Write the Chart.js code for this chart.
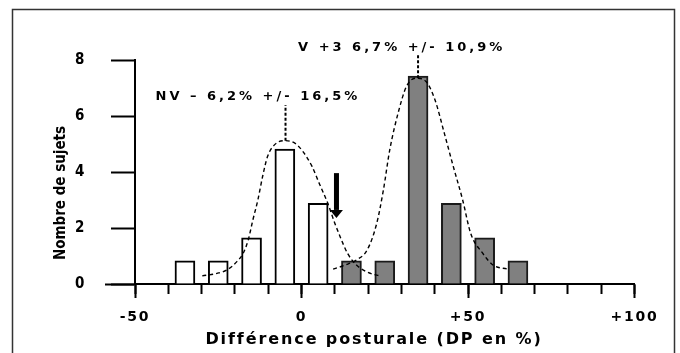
<!DOCTYPE html>
<html>
<head>
<meta charset="utf-8">
<script src="https://cdn.jsdelivr.net/npm/chart.js@4.4.1/dist/chart.umd.min.js"></script>
<style>
  html, body { margin: 0; padding: 0; background: #fff; }
  #wrap { width: 680px; height: 353px; position: relative; }
</style>
</head>
<body>
<div id="wrap"><canvas id="chart"></canvas></div>
<script>
// classes of 10 %, centre of each bar
var binsNV = [-35, -25, -15, -5, 5];
var countsNV = [0.83, 0.83, 1.65, 4.82, 2.88];
var binsV = [15, 25, 35, 45, 55, 65];
var countsV = [0.83, 0.83, 7.43, 2.88, 1.65, 0.83];

// dashed curves, points
var curveNVx = [-29.8, -25.4, -22.4, -19.4, -17.5, -16.0, -14.6, -13.1, -11.7, -10.2, -8.2, -5.1, -2.0, 0.5, 3.2, 5.3, 7.9, 10.0, 11.6, 13.8, 16.5, 20.7, 23.6];
var curveNVy = [0.29, 0.38, 0.5, 0.8, 1.1, 1.57, 2.29, 3.0, 3.83, 4.55, 4.96, 5.12, 5.03, 4.72, 4.19, 3.6, 2.88, 2.17, 1.69, 1.1, 0.68, 0.38, 0.29];
var curveVx = [9.5, 13.2, 16.5, 19.7, 22.6, 24.6, 26.5, 29.0, 31.5, 34.4, 37.4, 40.1, 42.9, 45.6, 48.4, 50.8, 54.4, 57.5, 62.0];
var curveVy = [0.53, 0.68, 0.86, 1.21, 2.17, 3.36, 4.79, 6.1, 7.05, 7.35, 7.23, 6.57, 5.38, 4.19, 3.0, 1.81, 1.1, 0.68, 0.53];

// dotted lines from the labels down to each peak
var meanNVx = [-4.8, -4.8];
var meanNVy = [5.12, 6.39];
var meanVx = [35, 35];
var meanVy = [7.35, 8.18];

// threshold arrow
var arrowX = 10.5;
var arrowY = [3.96, 2.36];

var xTickValues = [-50, -40, -30, -20, -10, 0, 10, 20, 30, 40, 50, 60, 70, 80, 90, 100];
var xMajorValues = [-50, 0, 50, 100];
var xMajorLabels = ['-50', '0', '+50', '+100'];
var yTickValues = [0, 2, 4, 6, 8];

var labelNV = 'NV \u2013 6,2% +/- 16,5%';
var labelV = 'V +3 6,7% +/- 10,9%';
var xTitle = 'Diff\u00e9rence posturale (DP en %)';
var yTitle = 'Nombre de sujets';

var FONT = "'DejaVu Sans', sans-serif";
var FONT_NARROW = "'DejaVu Sans Condensed', 'DejaVu Sans', sans-serif";

function pts(xs, ys) {
    return xs.map(function (x, i) { return {x: x, y: ys[i]}; });
}

var decor = {
    id: 'decor',
    beforeDraw: function (chart) {
        chart.ctx.letterSpacing = '1.7px';
    },
    afterDraw: function (chart) {
        var ctx = chart.ctx;
        var sx = chart.scales.x, sy = chart.scales.y;
        ctx.save();
        ctx.letterSpacing = '0px';

        // outer frame
        ctx.strokeStyle = '#333';
        ctx.lineWidth = 1.5;
        ctx.strokeRect(12.5, 9.5, 662, 360);

        // arrow
        var ax = sx.getPixelForValue(arrowX);
        var ay1 = sy.getPixelForValue(arrowY[0]);
        var ay2 = sy.getPixelForValue(arrowY[1]);
        ctx.fillStyle = '#000';
        ctx.fillRect(ax - 2.5, ay1, 5, ay2 - ay1 - 8);
        ctx.beginPath();
        ctx.moveTo(ax - 6.5, ay2 - 8);
        ctx.lineTo(ax + 6.5, ay2 - 8);
        ctx.lineTo(ax, ay2);
        ctx.closePath();
        ctx.fill();

        // labels of the two groups
        ctx.font = 'bold 13px ' + FONT;
        ctx.textBaseline = 'middle';
        ctx.textAlign = 'left';
        ctx.letterSpacing = '3px';
        ctx.fillText(labelNV, sx.getPixelForValue(meanNVx[0]) - 130, 97);
        ctx.fillText(labelV, sx.getPixelForValue(meanVx[0]) - 120, 48);

        // x title
        ctx.font = 'bold 16px ' + FONT;
        ctx.textAlign = 'center';
        ctx.letterSpacing = '1.9px';
        ctx.fillText(xTitle, 374, 340);

        // y title
        ctx.letterSpacing = '0px';
        ctx.font = 'bold 15px ' + FONT_NARROW;
        ctx.translate(61, 193);
        ctx.rotate(-Math.PI / 2);
        ctx.fillText(yTitle, 0, 0);
        ctx.restore();
    }
};

var ctx = document.getElementById('chart').getContext('2d');
var lineStyle = {
    type: 'line',
    xAxisID: 'x',
    yAxisID: 'y',
    borderColor: '#000',
    borderWidth: 1.4,
    borderDash: [4, 3],
    pointRadius: 0,
    cubicInterpolationMode: 'monotone',
    fill: false,
    order: 0
};
var markerStyle = {
    type: 'line',
    xAxisID: 'x',
    yAxisID: 'y',
    borderColor: '#000',
    borderWidth: 2,
    borderDash: [3, 2],
    pointRadius: 0,
    fill: false,
    clip: false,
    order: 0
};

new Chart(ctx, {
    type: 'bar',
    data: {
        datasets: [
            Object.assign({data: pts(curveNVx, curveNVy)}, lineStyle),
            Object.assign({data: pts(curveVx, curveVy)}, lineStyle),
            Object.assign({data: pts(meanNVx, meanNVy)}, markerStyle),
            Object.assign({data: pts(meanVx, meanVy)}, markerStyle),
            {
                type: 'bar',
                xAxisID: 'x',
                yAxisID: 'y',
                data: pts(binsNV, countsNV),
                backgroundColor: '#ffffff',
                borderColor: '#000',
                borderWidth: 2,
                barThickness: 20,
                grouped: false,
                order: 1
            },
            {
                type: 'bar',
                xAxisID: 'x',
                yAxisID: 'y',
                data: pts(binsV, countsV),
                backgroundColor: '#808080',
                borderColor: '#1a1a1a',
                borderWidth: 2,
                barThickness: 20,
                grouped: false,
                order: 1
            }
        ]
    },
    options: {
        responsive: true,
        maintainAspectRatio: false,
        animation: false,
        layout: { padding: { left: 0, top: 60, right: 45.5, bottom: 0 } },
        plugins: {
            legend: { display: false },
            tooltip: { enabled: false }
        },
        scales: {
            x: {
                type: 'linear',
                position: 'bottom',
                min: -50,
                max: 100,
                offset: false,
                afterBuildTicks: function (s) { s.ticks = xTickValues.map(function (v) { return {value: v}; }); },
                afterFit: function (s) { s.height = 69; },
                grid: { drawOnChartArea: false, offset: false, tickLength: 10, tickWidth: 2, tickColor: '#000' },
                border: { color: '#000', width: 2 },
                ticks: {
                    autoSkip: false,
                    maxRotation: 0,
                    padding: 15,
                    color: '#000',
                    font: { family: FONT, size: 14, weight: 'bold' },
                    callback: function (v) {
                        var i = xMajorValues.indexOf(v);
                        return i < 0 ? '' : xMajorLabels[i];
                    }
                }
            },
            xMaj: {
                type: 'linear',
                axis: 'x',
                position: { y: 0 },
                min: -50,
                max: 100,
                offset: false,
                afterBuildTicks: function (s) { s.ticks = xMajorValues.map(function (v) { return {value: v}; }); },
                grid: { drawOnChartArea: false, offset: false, tickLength: 14, tickWidth: 2, tickColor: '#000' },
                border: { display: false },
                ticks: { display: false }
            },
            y: {
                type: 'linear',
                position: 'left',
                min: 0,
                max: 8,
                afterBuildTicks: function (s) { s.ticks = yTickValues.map(function (v) { return {value: v}; }); },
                afterFit: function (s) { s.width = 135; },
                grid: { drawOnChartArea: false, tickLength: 24, tickWidth: 2, tickColor: '#000' },
                border: { color: '#000', width: 2 },
                ticks: {
                    padding: 25,
                    color: '#000',
                    font: { family: FONT_NARROW, size: 15, weight: 'bold' }
                }
            },
            y0: {
                type: 'linear',
                axis: 'y',
                position: { x: -50 },
                min: 0,
                max: 8,
                afterBuildTicks: function (s) { s.ticks = [{value: 0}]; },
                grid: { drawOnChartArea: false, tickLength: 30, tickWidth: 2, tickColor: '#000' },
                border: { display: false },
                ticks: { display: false }
            }
        }
    },
    plugins: [decor]
});
</script>
</body>
</html>
